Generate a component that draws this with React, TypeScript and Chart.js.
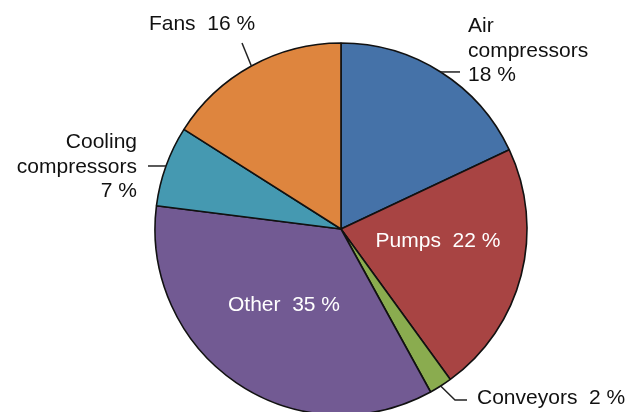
import React, { useEffect, useRef } from "react";
import { Chart, registerables } from "chart.js";

Chart.register(...registerables);

const categories = ["Air compressors", "Pumps", "Conveyors", "Other", "Cooling compressors", "Fans"];
const shares = [18, 22, 2, 35, 7, 16];
const colors = ["#4572a8", "#a84443", "#8aac4f", "#725a93", "#4599b1", "#de853e"];

type LabelLayout = {
  inside: boolean;
  lines: string[];
  x: number;
  y: number;
  align: CanvasTextAlign;
  leader?: number[][];
  horizontalLeader?: number;
};

const FONT = "21px 'Liberation Sans', Arial, sans-serif";
const LINE_H = 24.5;

function buildLayouts(): LabelLayout[] {
  return [
    { inside: false, lines: ["Air", "compressors", `${shares[0]} %`], x: 468, y: 32, align: "left", horizontalLeader: 460 },
    { inside: true, lines: [`${categories[1]}  ${shares[1]} %`], x: 438, y: 247, align: "center" },
    { inside: false, lines: [`${categories[2]}  ${shares[2]} %`], x: 477, y: 404, align: "left", leader: [[455, 400], [467, 400]] },
    { inside: true, lines: [`${categories[3]}  ${shares[3]} %`], x: 284, y: 311, align: "center" },
    { inside: false, lines: ["Cooling", "compressors", `${shares[4]} %`], x: 137, y: 148, align: "right", horizontalLeader: 148 },
    { inside: false, lines: [`${categories[5]}  ${shares[5]} %`], x: 202, y: 30, align: "center", leader: [[242, 43]] },
  ];
}

const labelPlugin = {
  id: "pieLabels",
  afterDatasetsDraw(chart: any) {
    const ctx = chart.ctx as CanvasRenderingContext2D;
    const meta = chart.getDatasetMeta(0);
    const layouts = buildLayouts();
    ctx.save();
    ctx.font = FONT;
    meta.data.forEach((arc: any, i: number) => {
      const L = layouts[i];
      if (!L) return;
      const { x, y, startAngle, endAngle, outerRadius } = arc.getProps(
        ["x", "y", "startAngle", "endAngle", "outerRadius"],
        true
      );
      if (!L.inside) {
        const mid = (startAngle + endAngle) / 2;
        const ax = x + Math.cos(mid) * outerRadius;
        const ay = y + Math.sin(mid) * outerRadius;
        ctx.beginPath();
        ctx.strokeStyle = "#222";
        ctx.lineWidth = 1.5;
        ctx.moveTo(ax, ay);
        if (L.horizontalLeader !== undefined) {
          ctx.lineTo(L.horizontalLeader, ay);
        }
        (L.leader || []).forEach((p) => ctx.lineTo(p[0], p[1]));
        ctx.stroke();
      }
      ctx.fillStyle = L.inside ? "#ffffff" : "#111111";
      ctx.textAlign = L.align;
      ctx.textBaseline = "alphabetic";
      L.lines.forEach((t, k) => ctx.fillText(t, L.x, L.y + k * LINE_H));
    });
    ctx.restore();
  },
};

export default function App() {
  const ref = useRef<HTMLCanvasElement | null>(null);
  useEffect(() => {
    if (!ref.current) return;
    const chart = new Chart(ref.current, {
      type: "pie",
      data: {
        labels: categories,
        datasets: [
          {
            data: shares,
            backgroundColor: colors,
            borderColor: "#111111",
            borderWidth: 1.6,
            radius: 186,
            clip: false as any,
          },
        ],
      },
      options: {
        responsive: false,
        animation: false,
        devicePixelRatio: 1,
        layout: { padding: { left: 42, right: 0, top: 46, bottom: 0 } },
        plugins: {
          legend: { display: false },
          tooltip: { enabled: false },
          title: { display: false },
        },
      },
      plugins: [labelPlugin],
    });
    return () => chart.destroy();
  }, []);
  return (
    <div style={{ position: "absolute", left: 0, top: 0, width: 640, height: 412, overflow: "hidden", background: "#fff" }}>
      <canvas ref={ref} width={640} height={412} style={{ width: 640, height: 412, display: "block" }} />
    </div>
  );
}
